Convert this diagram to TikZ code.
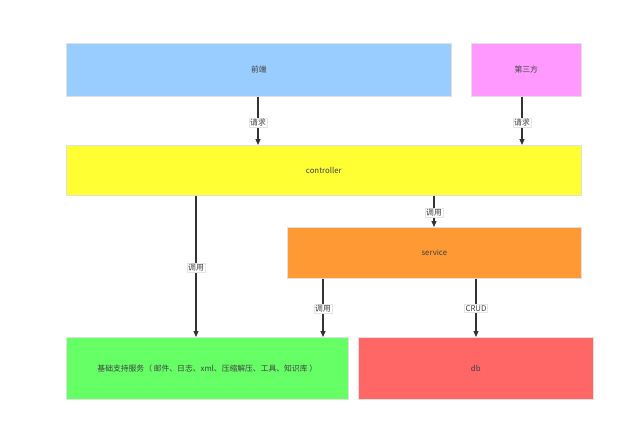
\documentclass[tikz,border=0pt]{standalone}
\usepackage{fontspec}
\setmainfont{Noto Sans CJK SC}
\usetikzlibrary{arrows.meta}
\begin{document}
\begin{tikzpicture}[x=1pt,y=-1pt,
  box/.style={draw=black!12,line width=0.6pt,inner sep=0pt,anchor=north west,font=\fontsize{7.8}{9}\selectfont,text=black!75},
  conn/.style={draw=black!80,line width=1.1pt,-{Triangle[length=6pt,width=5pt]}},
  lbl/.style={fill=white,draw=black!10,line width=0.3pt,inner sep=1pt,font=\fontsize{7.8}{9}\selectfont,text=black!75}]
\useasboundingbox (0,0) rectangle (630,437);
\node[box,fill={rgb,255:red,153;green,204;blue,255},minimum width=385pt,minimum height=53pt] (fe) at (66,43) {前端};
\node[box,fill={rgb,255:red,255;green,153;blue,255},minimum width=110pt,minimum height=53pt] (tp) at (471,43) {第三方};
\node[box,fill={rgb,255:red,255;green,255;blue,51},minimum width=515pt,minimum height=50pt] (ctl) at (66,145) {controller};
\node[box,fill={rgb,255:red,255;green,153;blue,51},minimum width=294pt,minimum height=51pt] (svc) at (287,227) {service};
\node[box,fill={rgb,255:red,102;green,255;blue,102},minimum width=282pt,minimum height=62pt] (base) at (66,337) {基础支持服务（ 邮件、日志、xml、压缩解压、工具、知识库 ）};
\node[box,fill={rgb,255:red,255;green,102;blue,102},minimum width=235pt,minimum height=62pt] (db) at (358,337) {db};
\draw[conn] (fe.south -| 258,0) -- node[lbl,pos=0.53]{请求} (ctl.north -| 258,0);
\draw[conn] (tp.south -| 522,0) -- node[lbl,pos=0.53]{请求} (ctl.north -| 522,0);
\draw[conn] (ctl.south -| 196,0) -- node[lbl,pos=0.51]{调用} (base.north -| 196,0);
\draw[conn] (ctl.south -| 434,0) -- node[lbl,pos=0.53]{调用} (svc.north -| 434,0);
\draw[conn] (svc.south -| 323,0) -- node[lbl,pos=0.51]{调用} (base.north -| 323,0);
\draw[conn] (svc.south -| 476,0) -- node[lbl,pos=0.51]{CRUD} (db.north -| 476,0);
\end{tikzpicture}
\end{document}
